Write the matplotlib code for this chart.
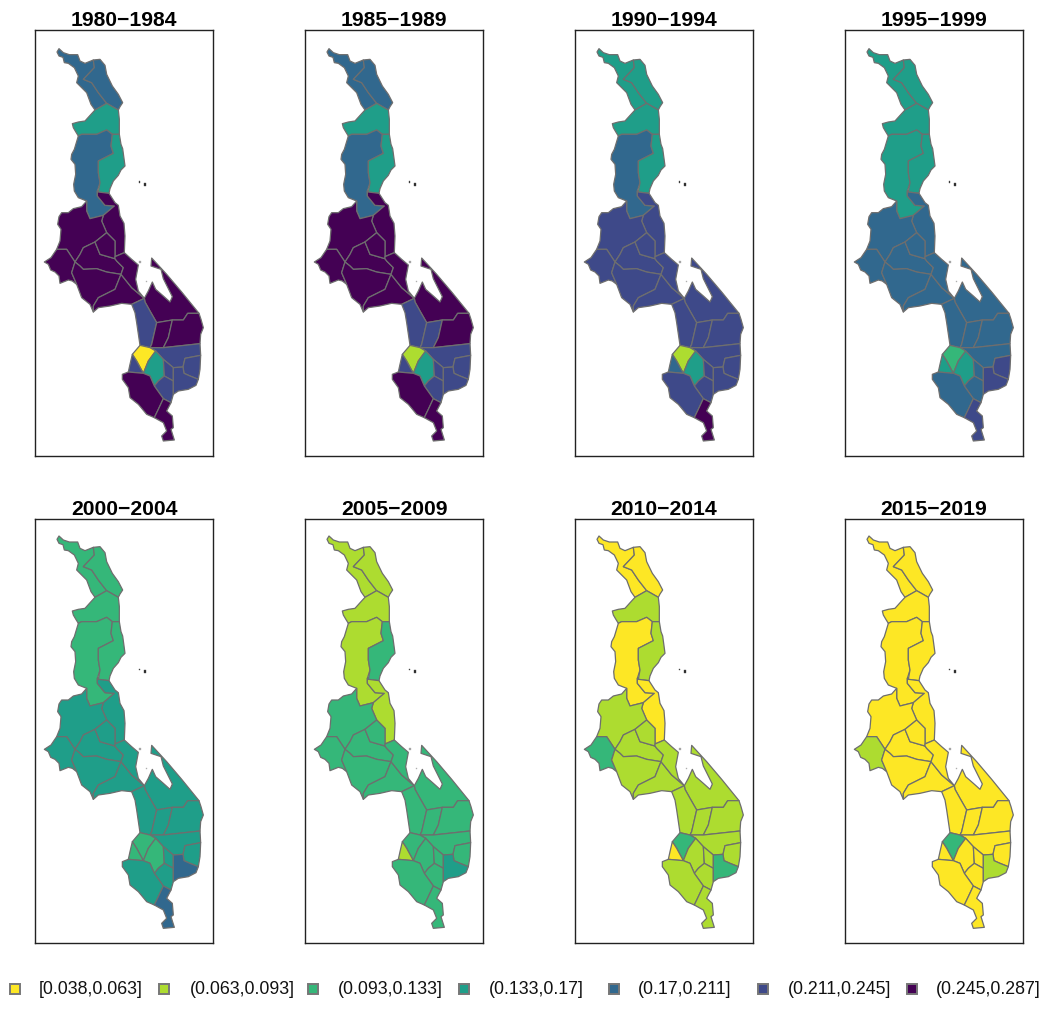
import matplotlib
matplotlib.use("Agg")
import matplotlib.pyplot as plt
from matplotlib.patches import Polygon, Rectangle

plt.rcParams['font.family'] = ['Liberation Sans', 'DejaVu Sans']

W, H = 1050, 1011

periods = ['1980\u22121984', '1985\u22121989', '1990\u22121994', '1995\u22121999',
           '2000\u22122004', '2005\u22122009', '2010\u22122014', '2015\u22122019']
class_labels = ['[0.038,0.063]', '(0.063,0.093]', '(0.093,0.133]', '(0.133,0.17]',
                '(0.17,0.211]', '(0.211,0.245]', '(0.245,0.287]']
class_colors = ['#fde725', '#addc30', '#35b779', '#1f9e89', '#31688e', '#3e4989', '#440154']

# District outlines in map units
chitipa = [(175,82),(178,105),(145,140),(170,150),(190,180),(215,212),(180,232),(168,215),(155,180),(125,150),
           (130,130),(118,105),(100,92),(88,90),(84,74),(72,70),(66,58),(72,48),(85,60),(103,66),(128,66),(135,85),(150,92)]
karonga = [(175,82),(195,80),(210,98),(215,125),(232,160),(250,185),(263,210),(255,222),(250,232),(215,212),
           (190,180),(170,150),(145,140),(178,105)]
rumphi = [(215,212),(250,232),(253,260),(253,305),(232,305),(215,292),(185,305),(140,305),(130,310),(122,297),
          (115,285),(112,273),(130,268),(150,265),(168,245),(180,232)]
mzimba = [(130,310),(140,305),(185,305),(215,292),(232,305),(228,340),(235,362),(190,385),(190,420),(195,450),
          (187,475),(187,490),(210,518),(238,520),(205,548),(165,558),(155,535),(155,505),(130,495),(118,475),
          (116,455),(122,425),(120,395),(108,380),(110,365),(118,350)]
nkhata_bay = [(232,305),(253,305),(258,335),(263,348),(266,370),(270,400),(258,412),(250,428),(235,445),(225,468),
              (222,482),(190,478),(195,450),(190,420),(190,385),(235,362),(228,340)]
nkhotakota = [(187,490),(187,475),(190,478),(222,482),(240,510),(250,518),(255,550),(267,572),(270,610),(268,660),
              (240,672),(240,625),(225,610),(215,600),(200,565),(205,548),(238,520),(210,518)]
kasungu = [(155,505),(140,522),(115,528),(100,540),(80,540),(72,552),(68,575),(78,590),(75,625),(65,650),(95,650),
           (120,688),(135,665),(145,645),(180,628),(215,600),(200,565),(205,548),(165,558),(155,535)]
mchinji = [(65,650),(95,650),(120,688),(110,720),(125,755),(112,745),(100,742),(75,752),(72,730),(60,718),(47,712),
           (40,695),(28,688),(48,675)]
dowa = [(180,628),(145,645),(135,665),(120,688),(135,700),(145,710),(185,708),(215,718),(258,725),(265,705),(245,685),
        (240,678),(195,665)]
ntchisi = [(215,600),(180,628),(195,665),(240,678),(240,625),(225,610)]
lilongwe = [(120,688),(135,700),(145,710),(185,708),(215,718),(258,725),(240,770),(190,795),(175,820),(175,838),
            (165,815),(140,795),(125,755),(110,720)]
dedza = [(258,725),(240,770),(190,795),(175,820),(175,838),(190,825),(225,820),(260,812),(290,815),(328,797),
         (290,765)]
salima = [(240,678),(240,672),(268,660),(290,680),(310,697),(302,740),(310,775),(328,797),(290,765),(258,725),(265,705),(245,685)]
mangochi = [(328,797),(340,775),(352,748),(362,770),(385,790),(405,808),(412,792),(385,738),(378,710),(348,700),(350,676),
            (395,725),(440,778),(492,842),(458,842),(445,862),(412,862),(365,870),(345,835),(330,808)]
ntcheu = [(290,815),(328,797),(330,808),(345,835),(365,870),(350,935),(345,945),(315,938),(305,870),(300,840)]
balaka = [(365,870),(412,862),(400,915),(385,945),(345,945),(350,935)]
machinga = [(412,862),(445,862),(458,842),(492,842),(498,860),(505,885),(497,905),(495,933),(385,945),(400,915)]
zomba = [(385,945),(495,933),(497,968),(450,977),(444,1003),(415,1005),(385,980),(362,955),(345,945)]
neno = [(315,938),(345,945),(362,955),(340,985),(325,1022),(305,985),(292,965)]
mwanza = [(292,965),(305,985),(325,1022),(280,1018),(285,995)]
blantyre = [(362,955),(385,980),(388,1030),(370,1045),(358,1060),(345,1030),(325,1022),(340,985)]
chiradzulu = [(385,980),(415,1005),(415,1045),(388,1030)]
thyolo = [(358,1060),(370,1045),(388,1030),(415,1045),(415,1085),(408,1110),(385,1098)]
phalombe = [(444,1003),(450,977),(497,968),(495,1010),(490,1040),(465,1030),(447,1022)]
mulanje = [(415,1005),(444,1003),(447,1022),(465,1030),(490,1040),(483,1058),(460,1070),(430,1075),(415,1085),(415,1045)]
chikwawa = [(262,1025),(280,1018),(325,1022),(345,1030),(358,1060),(385,1098),(370,1130),(358,1155),(335,1145),(310,1115),
            (285,1095),(280,1065),(262,1040)]
nsanje = [(385,1098),(408,1110),(395,1135),(412,1150),(415,1185),(408,1190),(418,1222),(385,1225),(380,1210),(395,1195),
          (385,1170),(358,1155),(370,1130)]
district_shapes = [chitipa, karonga, rumphi, mzimba, nkhata_bay, nkhotakota, kasungu, mchinji, dowa, ntchisi, lilongwe,
                   dedza, salima, mangochi, ntcheu, balaka, machinga, zomba, neno, mwanza, blantyre, chiradzulu, thyolo,
                   phalombe, mulanje, chikwawa, nsanje]

# Lake islands and specks
islands = [[(328,451),(334,451),(334,460),(328,460)], [(311,446),(316,446),(316,451),(311,451)]]
specks = [[(312,685),(318,685),(318,691),(312,691)], [(333,744),(337,744),(337,748),(333,748)]]

# Class (1 = lowest) of each district, in district_shapes order
p1980 = [5,5,4,5,4,7,7,7,7,7,7,7,7,7,6,7,7,6,1,6,4,6,6,6,6,7,7]
p1985 = [5,5,4,5,4,7,7,7,7,7,7,7,7,7,6,6,7,6,2,6,4,6,6,6,6,7,7]
p1990 = [4,4,4,5,4,6,6,6,6,6,6,6,6,6,6,6,6,6,2,5,4,6,6,6,6,6,7]
p1995 = [4,4,4,4,4,5,5,5,5,5,5,5,5,5,5,5,5,5,3,4,4,5,5,6,6,5,6]
p2000 = [3,3,3,3,3,4,4,4,4,4,4,4,4,4,4,4,4,4,3,3,3,4,4,4,5,4,5]
p2005 = [2,2,2,2,3,2,3,3,3,3,3,3,3,3,3,3,3,3,3,2,3,3,3,3,4,3,3]
p2010 = [1,1,2,1,2,1,2,3,2,2,2,2,2,2,2,2,2,2,3,1,2,2,2,2,3,2,2]
p2015 = [1,1,1,1,1,1,1,2,1,1,1,1,1,1,1,1,1,1,3,1,1,1,1,1,2,1,1]
period_classes = [p1980, p1985, p1990, p1995, p2000, p2005, p2010, p2015]

panel_left = [35, 305, 575, 845]
panel_width = 178
row_top = [30, 519]
row_bottom = [456, 943]
row_ylim = [(1270, -8), (1269, -3)]
EDGE = '#6e6e6e'

fig = plt.figure(figsize=(W / 100, H / 100), dpi=100)
fig.patch.set_facecolor('white')

for i, (name, classes) in enumerate(zip(periods, period_classes)):
    r, c = divmod(i, 4)
    ax = fig.add_axes([panel_left[c] / W, 1 - row_bottom[r] / H, panel_width / W, (row_bottom[r] - row_top[r]) / H])
    ax.set_xlim(0, 534)
    ax.set_ylim(*row_ylim[r])
    ax.set_xticks([])
    ax.set_yticks([])
    for s in ax.spines.values():
        s.set_linewidth(1.0)
        s.set_color('#222222')
    for shape, k in zip(district_shapes, classes):
        ax.add_patch(Polygon(shape, closed=True, facecolor=class_colors[k - 1], edgecolor=EDGE, linewidth=0.9,
                             joinstyle='round'))
    for shape in islands:
        ax.add_patch(Polygon(shape, closed=True, facecolor='#222222', edgecolor='#555555', linewidth=0.3))
    for shape in specks:
        ax.add_patch(Polygon(shape, closed=True, facecolor='#999999', edgecolor='#bbbbbb', linewidth=0.3))
    ax.set_title(name, fontsize=15.2, fontweight='bold', pad=2.5)

# Legend row
leg = fig.add_axes([0, 0, 1, 1], facecolor='none')
leg.set_xlim(0, W)
leg.set_ylim(H, 0)
leg.axis('off')
square_x = [15, 164, 313, 464, 614, 763, 912]
text_x = [39, 190, 338, 489, 638, 788, 936]
for sx, tx, col, lab in zip(square_x, text_x, class_colors, class_labels):
    leg.add_patch(Rectangle((sx - 5, 984), 10, 10, facecolor=col, edgecolor='#777777', linewidth=1.4))
    leg.text(tx, 989, lab, fontsize=12.8, va='center', ha='left', color='#111111')

fig.savefig('out.png', dpi=100)
